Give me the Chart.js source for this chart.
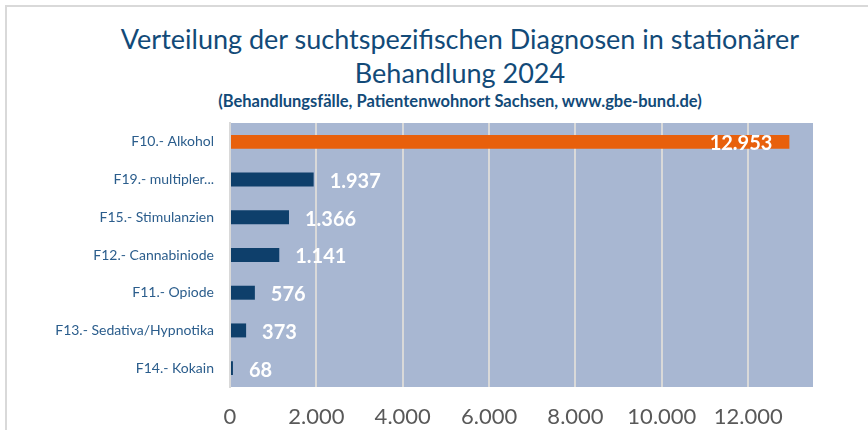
<!DOCTYPE html>
<html>
<head>
<meta charset="utf-8">
<script src="https://cdn.jsdelivr.net/npm/chart.js@4"></script>
<style>
  html, body { margin: 0; padding: 0; background: #fff; }
  #wrap { position: relative; width: 868px; height: 430px; overflow: hidden; }
  #frame { position: absolute; left: 5px; top: 5px; width: 900px; height: 440px;
           border-left: 2px solid #d9d9d9; border-top: 2px solid #d9d9d9; }
  .t { position: absolute; left: 26px; width: 868px; text-align: center;
       font-family: Lato, sans-serif; color: #124a78; white-space: nowrap; }
  #t1 { top: 22px; font-size: 27px; }
  #t2 { top: 56px; font-size: 27px; }
  #t3 { top: 91px; font-size: 16.5px; font-weight: bold; }
  canvas { position: absolute; left: 0; top: 0; }
</style>
</head>
<body>
<div id="wrap">
  <div id="frame"></div>
  <div class="t" id="t1">Verteilung der suchtspezifischen Diagnosen in stationärer</div>
  <div class="t" id="t2">Behandlung 2024</div>
  <div class="t" id="t3">(Behandlungsfälle, Patientenwohnort Sachsen, www.gbe-bund.de)</div>
  <canvas id="myChart" width="868" height="430"></canvas>
</div>
<script>
// Kategorien (von oben nach unten)
const diagnosen = ['F10.- Alkohol', 'F19.- multipler...', 'F15.- Stimulanzien', 'F12.- Cannabiniode',
                   'F11.- Opiode', 'F13.- Sedativa/Hypnotika', 'F14.- Kokain'];
// Behandlungsfälle 2024
const faelle = [12953, 1937, 1366, 1141, 576, 373, 68];
// Balkenfarben
const farben = ['#e8600c', '#0e3f6b', '#0e3f6b', '#0e3f6b', '#0e3f6b', '#0e3f6b', '#0e3f6b'];
// X-Achse
const xMax = 13500;
const xStep = 2000;

// Zahl mit Tausenderpunkt
function fmt(v) {
    return String(Math.round(v)).replace(/\B(?=(\d{3})+(?!\d))/g, '.');
}

// Hintergrund der Zeichenfläche
const plotBg = {
    id: 'plotBg',
    beforeDraw(chart) {
        const a = chart.chartArea;
        const ctx = chart.ctx;
        ctx.save();
        ctx.fillStyle = '#a8b7d2';
        ctx.fillRect(a.left, a.top, a.right - a.left, a.bottom - a.top);
        ctx.restore();
    }
};

// Werte an den Balken
const valueLabels = {
    id: 'valueLabels',
    afterDatasetsDraw(chart) {
        const ctx = chart.ctx;
        const meta = chart.getDatasetMeta(0);
        ctx.save();
        ctx.font = 'bold 20px Lato, sans-serif';
        ctx.fillStyle = '#ffffff';
        ctx.textBaseline = 'middle';
        meta.data.forEach((bar, i) => {
            const v = faelle[i];
            if (v > 10000) {
                ctx.textAlign = 'right';
                ctx.fillText(fmt(v), bar.x - 17, bar.y + 2);
            } else {
                ctx.textAlign = 'left';
                ctx.fillText(fmt(v), bar.x + 16, bar.y + 2);
            }
        });
        ctx.restore();
    }
};

const config = {
    type: 'bar',
    data: {
        labels: diagnosen,
        datasets: [{
            data: faelle,
            backgroundColor: farben,
            borderWidth: 0,
            categoryPercentage: 0.74,
            barPercentage: 0.5
        }]
    },
    options: {
        indexAxis: 'y',
        responsive: false,
        animation: false,
        layout: { padding: { left: 10, right: 55, top: 123, bottom: 0 } },
        plugins: {
            legend: { display: false },
            tooltip: { enabled: false },
            title: { display: false }
        },
        scales: {
            x: {
                min: 0,
                max: xMax,
                afterBuildTicks(scale) {
                    const t = [];
                    for (let v = 0; v <= 12000; v += xStep) t.push({ value: v });
                    scale.ticks = t;
                },
                afterFit(scale) { scale.height = 43; },
                grid: { color: '#d9d9d9', lineWidth: 2, drawTicks: false },
                border: { display: false },
                ticks: {
                    padding: 17,
                    color: '#595959',
                    font: { family: 'Lato, sans-serif', size: 22 },
                    callback: (v) => fmt(v)
                }
            },
            y: {
                afterFit(scale) { scale.width = 220; },
                grid: { display: false },
                border: { display: true, color: '#d9d9d9', width: 2 },
                ticks: {
                    padding: 8,
                    color: '#2b5d8c',
                    font: { family: 'Lato, sans-serif', size: 14 }
                }
            }
        }
    },
    plugins: [plotBg, valueLabels]
};

const chart = new Chart(document.getElementById('myChart'), config);
</script>
</body>
</html>
